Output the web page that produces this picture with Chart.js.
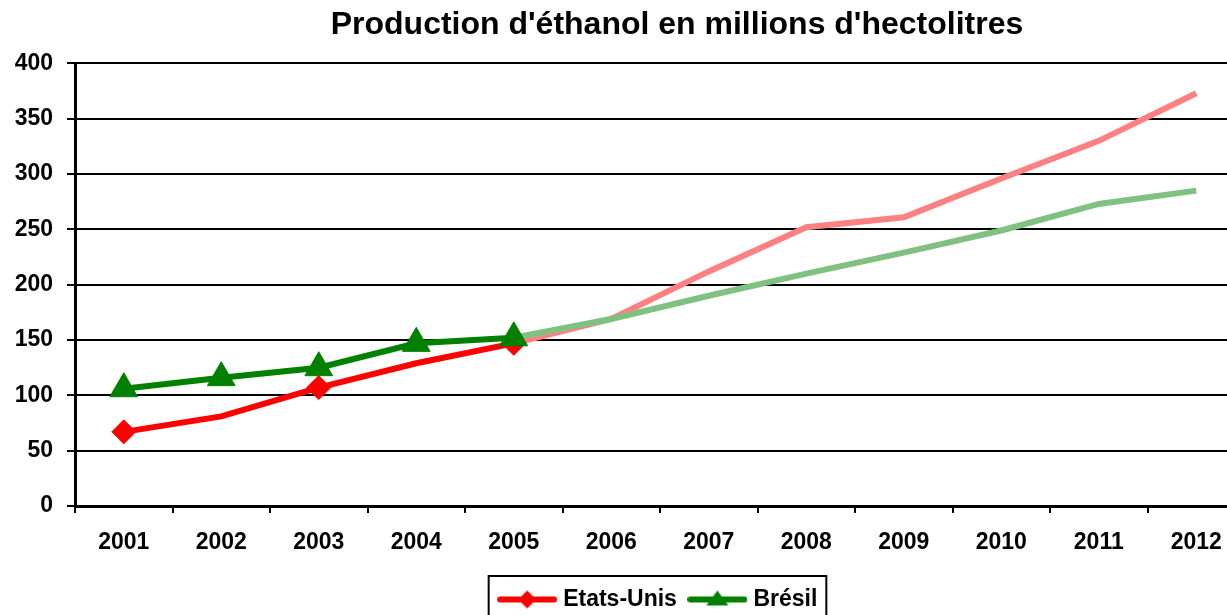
<!DOCTYPE html>
<html>
<head>
<meta charset="utf-8">
<script src="https://cdn.jsdelivr.net/npm/chart.js@4.4.0/dist/chart.umd.min.js"></script>
<style>
  html, body { margin: 0; padding: 0; background: #fff; overflow: hidden; }
  #wrap { width: 1227px; height: 615px; overflow: hidden; }
</style>
</head>
<body>
<div id="wrap"><canvas id="chart" width="1354" height="621"></canvas></div>
<script>
// values (millions d'hectolitres)
const years = ['2001', '2002', '2003', '2004', '2005', '2006', '2007', '2008', '2009', '2010', '2011', '2012'];
const etatsUnis = [67, 81, 107, 129, 147, 169, 212, 252, 261, 296, 330, 373];
const bresil = [106, 116, 125, 147, 152, 169, 190, 210, 229, 249, 273, 285];
const yMin = 0, yMax = 400, yStep = 50;

const RED = '#ff0000', RED_LIGHT = '#ff8080';
const GREEN = '#008000', GREEN_LIGHT = '#80c080';
const LAST_MEASURED = 4; // 2005, after that the lines are lighter (projection)
const FONT = '"Liberation Sans", Arial, sans-serif';

// line + marker icon for the legend
function legendIcon(color, shape) {
  const c = document.createElement('canvas');
  c.width = 60; c.height = 24;
  const g = c.getContext('2d');
  g.strokeStyle = color;
  g.lineWidth = 6;
  g.lineCap = 'round';
  g.beginPath(); g.moveTo(3, 12); g.lineTo(57, 12); g.stroke();
  g.fillStyle = color;
  g.beginPath();
  if (shape === 'diamond') {
    g.moveTo(30, 3); g.lineTo(39, 12); g.lineTo(30, 21); g.lineTo(21, 12);
  } else {
    g.moveTo(30, 3); g.lineTo(41, 18); g.lineTo(19, 18);
  }
  g.closePath(); g.fill();
  return c;
}
const icons = [legendIcon(RED, 'diamond'), legendIcon(GREEN, 'triangle')];

// frame around the legend, runs off the bottom like the original
const legendFrame = {
  id: 'legendFrame',
  afterDraw(chart) {
    const boxes = chart.legend.legendHitBoxes;
    if (!boxes || !boxes.length) return;
    const first = boxes[0], last = boxes[boxes.length - 1];
    const g = chart.ctx;
    g.save();
    g.strokeStyle = '#000';
    g.lineWidth = 2;
    const left = first.left - 14;
    const right = last.left + last.width + 9;
    g.strokeRect(left, chart.legend.top + 4, right - left, 80);
    g.restore();
  }
};

new Chart(document.getElementById('chart'), {
  type: 'line',
  data: {
    labels: years,
    datasets: [
      {
        label: 'Etats-Unis',
        data: etatsUnis,
        order: 1,
        borderColor: RED,
        borderWidth: 6,
        segment: { borderColor: c => c.p0DataIndex >= LAST_MEASURED ? RED_LIGHT : RED },
        pointStyle: 'rectRot',
        pointRadius: c => (c.dataIndex <= LAST_MEASURED && c.dataIndex % 2 === 0) ? 12 : 0,
        pointBackgroundColor: RED,
        pointBorderColor: RED,
        pointBorderWidth: 1,
        tension: 0,
        fill: false
      },
      {
        label: 'Brésil',
        data: bresil,
        order: 0,
        borderColor: GREEN,
        borderWidth: 6,
        segment: { borderColor: c => c.p0DataIndex >= LAST_MEASURED ? GREEN_LIGHT : GREEN },
        pointStyle: 'triangle',
        pointRadius: c => c.dataIndex <= LAST_MEASURED ? 16 : 0,
        pointBackgroundColor: GREEN,
        pointBorderColor: GREEN,
        pointBorderWidth: 1,
        tension: 0,
        fill: false
      }
    ]
  },
  options: {
    responsive: false,
    animation: false,
    devicePixelRatio: 1,
    events: [],
    layout: { padding: 0 },
    plugins: {
      title: {
        display: true,
        text: "Production d'éthanol en millions d'hectolitres",
        color: '#000',
        font: { family: FONT, size: 32, weight: 'bold' },
        padding: { top: 6, bottom: 19 }
      },
      legend: {
        position: 'bottom',
        fullSize: false,
        labels: {
          usePointStyle: true,
          pointStyleWidth: 49,
          padding: 16,
          color: '#000',
          font: { family: FONT, size: 23, weight: 'bold' },
          sort: (a, b) => a.datasetIndex - b.datasetIndex,
          generateLabels(chart) {
            const items = Chart.defaults.plugins.legend.labels.generateLabels(chart);
            items.forEach(it => { it.pointStyle = icons[it.datasetIndex]; });
            return items;
          }
        }
      },
      tooltip: { enabled: false }
    },
    scales: {
      x: {
        offset: true,
        ticks: { color: '#000', font: { family: FONT, size: 23, weight: 'bold' }, padding: 16, maxRotation: 0, autoSkip: false },
        grid: { drawOnChartArea: false, color: '#000', lineWidth: 2, tickLength: 7, offset: true },
        border: { color: '#000', width: 3 },
        afterFit: s => { s.height = 66; }
      },
      y: {
        min: yMin,
        max: yMax,
        ticks: { stepSize: yStep, color: '#000', font: { family: FONT, size: 23, weight: 'bold' }, padding: 14 },
        grid: { color: '#000', lineWidth: 2, tickLength: 8 },
        border: { color: '#000', width: 3 },
        afterFit: s => { s.width = 75; }
      },
      // empty spacer on the right: the plot runs past the picture edge in the original
      spacer: {
        type: 'linear',
        position: 'right',
        display: true,
        ticks: { display: false },
        grid: { display: false },
        border: { display: false },
        afterFit: s => { s.width = 109; }
      }
    }
  },
  plugins: [legendFrame]
});
</script>
</body>
</html>
